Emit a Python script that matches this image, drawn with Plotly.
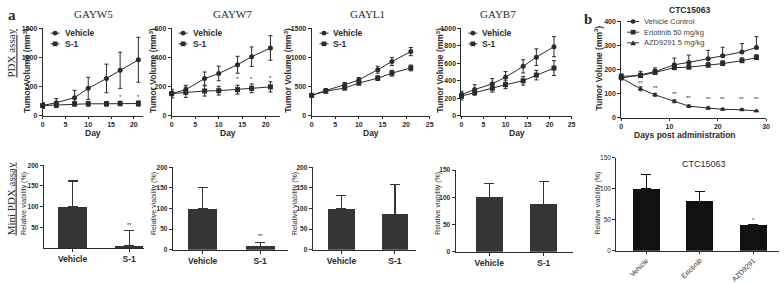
import plotly.graph_objects as go

W, H = 784, 283
SANS = "Liberation Sans, Arial, sans-serif"
SERIF = "Liberation Serif, Times New Roman, serif"
DARK = "#2b2b2b"

# ---------------- data ----------------
days = [0, 3, 7, 10, 14, 17, 21]

gayw5_vehicle = [175, 225, 310, 470, 640, 780, 960]
gayw5_vehicle_err = [50, 70, 125, 190, 245, 310, 385]
gayw5_s1 = [175, 185, 205, 205, 205, 210, 210]
gayw5_s1_err = [45, 45, 40, 40, 40, 40, 45]

gayw7_vehicle = [152, 179, 255, 290, 350, 405, 465]
gayw7_vehicle_err = [25, 30, 45, 50, 58, 67, 84]
gayw7_s1 = [152, 161, 170, 172, 179, 188, 198]
gayw7_s1_err = [30, 35, 35, 30, 30, 30, 35]

gayl1_vehicle = [350, 434, 530, 615, 790, 930, 1100]
gayl1_vehicle_err = [30, 30, 40, 40, 60, 70, 70]
gayl1_s1 = [350, 420, 475, 560, 645, 730, 820]
gayl1_s1_err = [30, 30, 30, 30, 40, 50, 50]

gayb7_vehicle = [240, 300, 365, 440, 565, 670, 790]
gayb7_vehicle_err = [40, 55, 60, 65, 75, 95, 115]
gayb7_s1 = [225, 265, 315, 355, 400, 465, 545]
gayb7_s1_err = [45, 30, 45, 45, 50, 55, 85]

ctc_days = [0, 4, 7, 11, 14, 18, 21, 25, 28]
ctc_vehicle = [165, 178, 192, 220, 230, 245, 258, 273, 292]
ctc_vehicle_err = [10, 15, 15, 28, 30, 35, 35, 35, 45]
ctc_erlotinib = [172, 175, 188, 208, 210, 218, 225, 237, 250]
ctc_erlotinib_err = [10, 10, 12, 12, 12, 12, 12, 12, 12]
ctc_azd = [165, 120, 95, 68, 48, 40, 35, 33, 28]
ctc_azd_err = [8, 8, 6, 6, 5, 5, 4, 4, 3]

mini_groups = ["Vehicle", "S-1"]
mini_gayw5 = [100, 5]
mini_gayw5_err = [62, 37]
mini_gayw7 = [100, 9]
mini_gayw7_err = [50, 8]
mini_gayl1 = [100, 86]
mini_gayl1_err = [32, 72]
mini_gayb7 = [100, 87]
mini_gayb7_err = [26, 42]

ctc_groups = ["Vehicle", "Erlotinib", "AZD9291"]
ctc_viability = [100, 80, 41]
ctc_viability_err = [22, 15, 2]

# ---------------- helpers ----------------
def px(x):
    return x / W


def py(y):
    return 1 - y / H


fig = go.Figure()
layout = {}
annotations = []
shapes = []


def axis_base(tickfont_size=7, bold=True):
    return dict(
        showline=True, linecolor=DARK, linewidth=1, ticks="outside",
        ticklen=3, tickwidth=1, tickcolor=DARK, showgrid=False,
        zeroline=False, fixedrange=True,
        tickfont=dict(family=SANS, size=tickfont_size, color=DARK,
                      weight="bold" if bold else "normal"),
    )


def add_axes(i, xdom, ydom, xrange, yrange, xtick, ytick, xticktext=None,
             xtickfont=7, ytickfont=7, xbold=True, ybold=True, xangle=0,
             xticklen=2, yticklen=3):
    xa = axis_base(xtickfont, xbold)
    xa.update(domain=[px(xdom[0]), px(xdom[1])], range=xrange,
              tickvals=xtick, anchor=f"y{i}", tickangle=xangle, ticklen=xticklen)
    if xticktext is not None:
        xa["ticktext"] = xticktext
    ya = axis_base(ytickfont, ybold)
    ya.update(domain=[py(ydom[1]), py(ydom[0])], range=yrange,
              tickvals=ytick, anchor=f"x{i}", ticklen=yticklen)
    layout[f"xaxis{i}"] = xa
    layout[f"yaxis{i}"] = ya


def text(x, y, s, size=8, family=SANS, bold=False, angle=0, color=DARK,
         xanchor="center", yanchor="middle", xref="paper", yref="paper"):
    annotations.append(dict(
        x=px(x) if xref == "paper" else x,
        y=py(y) if yref == "paper" else y,
        xref=xref, yref=yref, text=s, showarrow=False, textangle=angle,
        xanchor=xanchor, yanchor=yanchor,
        font=dict(family=family, size=size, color=color,
                  weight="bold" if bold else "normal")))


def legend_item(x0, x1, y, symbol, label, size=8.5, bold=True, color=DARK):
    shapes.append(dict(type="line", xref="paper", yref="paper",
                       x0=px(x0), x1=px(x1), y0=py(y), y1=py(y),
                       line=dict(color=DARK, width=1)))
    cx = (x0 + x1) / 2
    r = 2.4
    if symbol == "circle":
        shapes.append(dict(type="circle", xref="paper", yref="paper",
                           x0=px(cx - r), x1=px(cx + r), y0=py(y + r), y1=py(y - r),
                           fillcolor=DARK, line=dict(color=DARK, width=0)))
    elif symbol == "square":
        shapes.append(dict(type="rect", xref="paper", yref="paper",
                           x0=px(cx - r), x1=px(cx + r), y0=py(y + r), y1=py(y - r),
                           fillcolor=DARK, line=dict(color=DARK, width=0)))
    else:
        path = (f"M {px(cx - r - 0.4)} {py(y + r)} L {px(cx + r + 0.4)} {py(y + r)} "
                f"L {px(cx)} {py(y - r - 0.4)} Z")
        shapes.append(dict(type="path", xref="paper", yref="paper", path=path,
                           fillcolor=DARK, line=dict(color=DARK, width=0)))
    text(x1 + 3, y, label, size=size, bold=bold, xanchor="left", color=color)


def line_trace(i, x, y, err, symbol, name, err_minus=True):
    ey = dict(type="data", array=err, width=2, thickness=1, color=DARK, visible=True)
    if not err_minus:
        ey.update(symmetric=False, arrayminus=[0] * len(err))
    fig.add_trace(go.Scatter(
        x=x, y=y, mode="lines+markers", name=name, xaxis=f"x{i}", yaxis=f"y{i}",
        line=dict(color=DARK, width=1),
        marker=dict(symbol=symbol, size=5, color=DARK, line=dict(width=0)),
        error_y=ey, cliponaxis=False, showlegend=False))


def bar_trace(i, x, y, err, color):
    fig.add_trace(go.Bar(
        x=x, y=y, width=0.5, xaxis=f"x{i}", yaxis=f"y{i}",
        marker=dict(color=color, line=dict(width=0)),
        error_y=dict(type="data", symmetric=False, array=err,
                     arrayminus=[0] * len(err), width=5, thickness=1.1, color=color),
        showlegend=False))


# ---------------- row 1: PDX line charts ----------------
row1 = [
    (1, (41, 142), 25, 115, [0, 22], [0, 1500], [0, 5, 10, 15, 20], [0, 500, 1000, 1500],
     gayw5_vehicle, gayw5_vehicle_err, gayw5_s1, gayw5_s1_err, "GAYW5", 92, 25, 92,
     (49, 58, 60)),
    (2, (171, 280), 25, 115, [0, 23], [0, 600], [0, 5, 10, 15, 20], [0, 200, 400, 600],
     gayw7_vehicle, gayw7_vehicle_err, gayw7_s1, gayw7_s1_err, "GAYW7", 232, 152, 228,
     (178, 187, 189)),
    (3, (312, 431), 25, 115, [0, 25], [0, 1500], [0, 5, 10, 15, 20, 25], [0, 500, 1000, 1500],
     gayl1_vehicle, gayl1_vehicle_err, gayl1_s1, gayl1_s1_err, "GAYL1", 368, 288, 372,
     (320, 329, 331)),
    (4, (463, 574), 25, 115, [0, 25], [0, 1000], [0, 5, 10, 15, 20, 25],
     [0, 200, 400, 600, 800, 1000],
     gayb7_vehicle, gayb7_vehicle_err, gayb7_s1, gayb7_s1_err, "GAYB7", 500, 441, 519,
     (470, 479, 481)),
]

for (i, xdom, yt, yb, xr, yr, xt, ytk, veh, veh_e, s1, s1_e, title, tx, ytx, dx, leg) in row1:
    add_axes(i, xdom, (yt, yb), xr, yr, xt, ytk)
    line_trace(i, days, veh, veh_e, "circle", "Vehicle")
    line_trace(i, days, s1, s1_e, "square", "S-1")
    text(tx, 10, title, size=11, family=SERIF)
    text(ytx, 68, "Tumor Volume (mm<sup>3</sup>)", size=8.5, bold=True, angle=-90)
    text(dx, 133, "Day", size=8.5, bold=True)
    legend_item(leg[0], leg[1], 30, "circle", "Vehicle")
    legend_item(leg[0], leg[1], 41, "square", "S-1")

# significance marks on line charts
for d, v in [(17, 330), (21, 330)]:
    text(d, v, "*", size=6, xref="x1", yref="y1")
for d, v in [(14, 250), (17, 255), (21, 262)]:
    text(d, v, "*", size=6, xref="x2", yref="y2")

# ---------------- panel b line chart ----------------
add_axes(5, (624, 770), (18, 117), [0, 30], [0, 400], [0, 10, 20, 30],
         [0, 100, 200, 300, 400])
line_trace(5, ctc_days, ctc_vehicle, ctc_vehicle_err, "circle", "Vehicle Control", err_minus=False)
line_trace(5, ctc_days, ctc_erlotinib, ctc_erlotinib_err, "square", "Erlotinib 50 mg/kg", err_minus=False)
line_trace(5, ctc_days, ctc_azd, ctc_azd_err, "triangle-up", "AZD9291 5 mg/kg")
text(693, 6, "CTC15063", size=8.5, bold=True)
text(601, 66, "Tumor Volume (mm<sup>3</sup>)", size=8.5, bold=True, angle=-90)
text(688, 135, "Days post administration", size=8.5, bold=True)
legend_item(630, 642, 18, "circle", "Vehicle Control", size=7.5, bold=False, color="#444")
legend_item(630, 642, 29, "square", "Erlotinib 50 mg/kg", size=7.5, bold=False, color="#444")
legend_item(630, 642, 40, "triangle", "AZD9291 5 mg/kg", size=7.5, bold=False, color="#444")
for d, v in zip(ctc_days[1:], [145, 122, 98, 80, 78, 78, 78, 78]):
    text(d, v, "**", size=6, xref="x5", yref="y5")

# ---------------- row 2: mini PDX bar charts ----------------
row2 = [
    (6, (42, 143), 166, 251, [-0.51, 1.26], [0, 200], [50, 100, 150, 200],
     mini_gayw5, mini_gayw5_err, 22, "**", 56),
    (7, (172, 288), 168, 253, [-0.52, 1.48], [0, 200], [0, 50, 100, 150, 200],
     mini_gayw7, mini_gayw7_err, 153, "**", 33),
    (8, (313, 417), 168, 253, [-0.54, 1.39], [0, 200], [0, 50, 100, 150, 200],
     mini_gayl1, mini_gayl1_err, 295, None, None),
    (9, (457, 575), 171, 255, [-0.62, 1.53], [0, 150], [0, 50, 100, 150],
     mini_gayb7, mini_gayb7_err, 440, None, None),
]
for (i, xdom, yt, yb, xr, yr, ytk, vals, errs, ytx, star, sy) in row2:
    add_axes(i, xdom, (yt, yb), xr, yr, [0, 1], ytk, xticktext=mini_groups,
             xtickfont=8.5, ytickfont=6.5, xbold=True, ybold=True, xticklen=3)
    bar_trace(i, [0, 1], vals, errs, "#353535")
    text(ytx, 205, "Relative viability (%)", size=7, angle=-90)
    if star:
        text(1, sy, star, size=6, xref=f"x{i}", yref=f"y{i}")

# panel b bar chart
add_axes(10, (619, 783), (158, 254), [-0.56, 2.48], [0, 150], [0, 1, 2], [0, 50, 100, 150],
         xticktext=ctc_groups, xtickfont=7, ytickfont=6.5, xbold=False, ybold=False,
         xangle=-45, xticklen=2)
bar_trace(10, [0, 1, 2], ctc_viability, ctc_viability_err, "#111111")
text(707, 165, "CTC15063", size=9)
text(601, 205, "Relative viability (%)", size=7, angle=-90)
text(2, 50, "*", size=6, xref="x10", yref="y10")

# ---------------- panel labels ----------------
text(4, 11, "a", size=15, family=SERIF, bold=True, xanchor="left")
text(584, 15, "b", size=15, family=SERIF, bold=True, xanchor="left")
text(9, 50, "<u>PDX assay</u>", size=11, family=SERIF, angle=-90)
text(9, 200, "<u>Mini PDX assay</u>", size=11, family=SERIF, angle=-90)

fig.update_layout(
    width=W, height=H, margin=dict(l=0, r=0, t=0, b=0),
    paper_bgcolor="white", plot_bgcolor="white",
    showlegend=False, annotations=annotations, shapes=shapes, bargap=0,
    hovermode=False, **layout)

fig.write_html("out.html",
               config={"displayModeBar": False, "staticPlot": True},
               post_script="document.body.style.margin='0px';"
                           "document.body.style.overflow='hidden';")
